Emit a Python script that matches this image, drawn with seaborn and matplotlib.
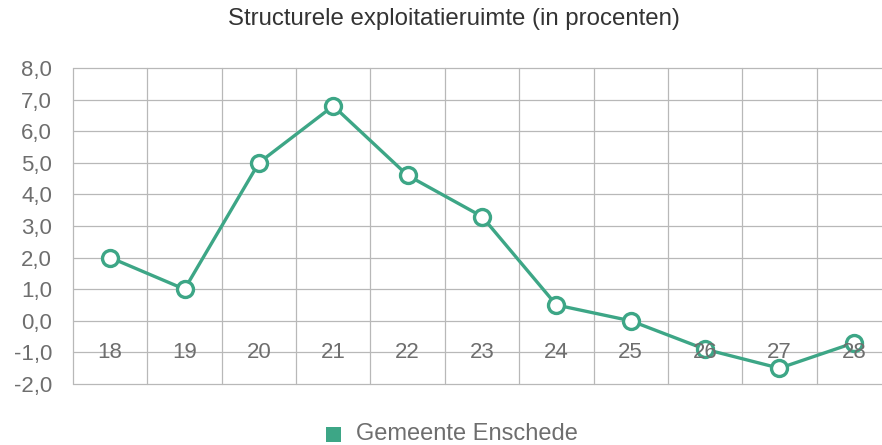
import matplotlib
matplotlib.use("Agg")
import matplotlib.pyplot as plt
import seaborn as sns
import pandas as pd
from matplotlib.ticker import FixedLocator

years = ["18", "19", "20", "21", "22", "23", "24", "25", "26", "27", "28"]
ruimte = [2.0, 1.0, 5.0, 6.8, 4.6, 3.3, 0.5, 0.0, -0.9, -1.5, -0.7]
series_name = "Gemeente Enschede"
title = "Structurele exploitatieruimte (in procenten)"
y_ticks = [-2, -1, 0, 1, 2, 3, 4, 5, 6, 7, 8]

teal = "#3da686"
grid_col = "#b8b8b8"
text_col = "#6e6e6e"

sns.set_theme(style="white")
plt.rcParams["font.family"] = ["Liberation Sans", "DejaVu Sans"]

df = pd.DataFrame({"pos": range(len(years)), "jaar": years, "waarde": ruimte})

fig = plt.figure(figsize=(8.82, 4.45), dpi=100)
ax = fig.add_axes([73 / 882, 1 - 384 / 445, 818 / 882, 316 / 445])

sns.lineplot(data=df, x="pos", y="waarde", ax=ax, color=teal, linewidth=2.4,
             marker="o", markersize=11.5, markerfacecolor="white",
             markeredgecolor=teal, markeredgewidth=2.4, zorder=4, clip_on=False)

ax.set_xlim(-0.5, len(years) - 0.5)
ax.set_ylim(min(y_ticks), max(y_ticks))
ax.yaxis.set_major_locator(FixedLocator(y_ticks))
ax.set_yticklabels([f"{v:.1f}".replace(".", ",") for v in y_ticks],
                   color=text_col, fontsize=16)

# vertical grid on category boundaries
ax.xaxis.set_major_locator(FixedLocator([i - 0.5 for i in range(len(years) + 1)]))
ax.set_xticklabels([])
ax.grid(True, axis="both", color=grid_col, linewidth=0.9)
for gl in ax.get_xgridlines() + ax.get_ygridlines():
    gl.set_clip_on(False)
ax.tick_params(axis="y", length=6, color=grid_col, width=0.9, pad=9)
ax.tick_params(axis="x", length=0)
for s in ax.spines.values():
    s.set_visible(False)
ax.set_xlabel("")
ax.set_ylabel("")

# category labels sit on the -1 grid line inside the plot
for i, lab in enumerate(years):
    ax.text(i, -1, lab, ha="center", va="center", color=text_col,
            fontsize=16, zorder=6)

fig.text(454 / 882, 1 - 19 / 445, title, ha="center", va="center",
         color="#333333", fontsize=17.3)

# legend
fig.patches.append(plt.Rectangle((326 / 882, 1 - 442 / 445), 15 / 882, 15 / 445,
                                 transform=fig.transFigure, facecolor=teal,
                                 edgecolor="none"))
fig.text(356 / 882, 1 - 434 / 445, series_name, ha="left", va="center",
         color=text_col, fontsize=17)

fig.savefig("out.png", dpi=100)
